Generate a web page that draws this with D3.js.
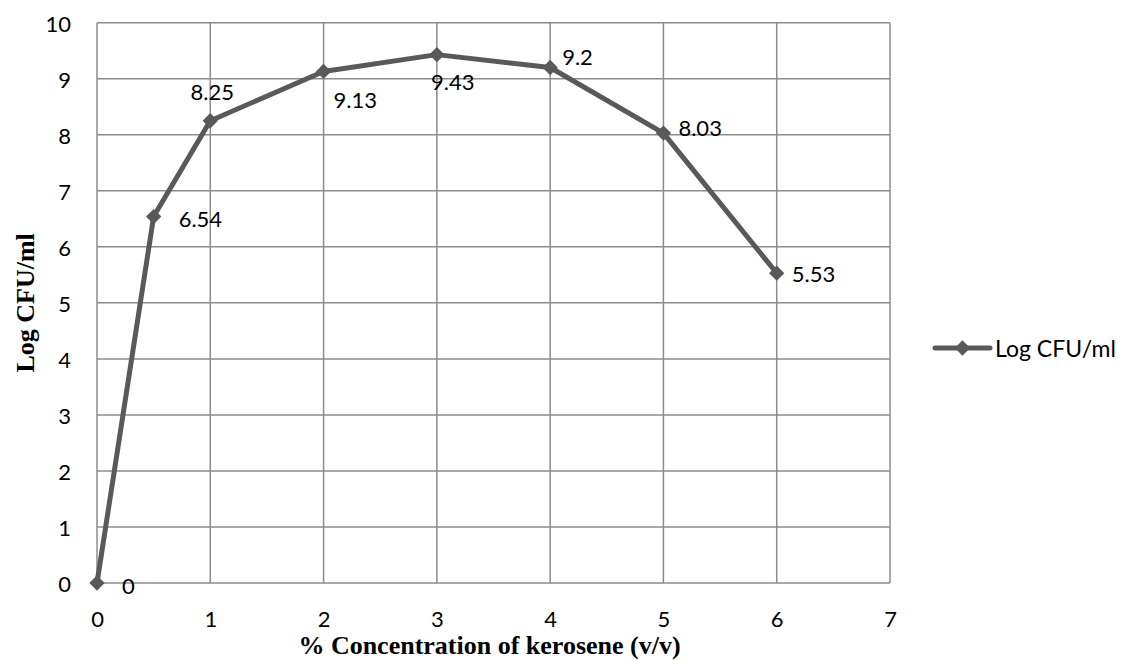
<!DOCTYPE html>
<html>
<head>
<meta charset="utf-8">
<script src="https://cdn.jsdelivr.net/npm/d3@7"></script>
<style>
  html, body { margin: 0; padding: 0; background: #fff; }
  svg { display: block; }
</style>
</head>
<body>
<svg id="chart" width="1123" height="660"></svg>
<script>
// ---- data ----
const concentrations = [0, 0.5, 1, 2, 3, 4, 5, 6];
const logCFU = [0, 6.54, 8.25, 9.13, 9.43, 9.2, 8.03, 5.53];
const labelTexts = ["0", "6.54", "8.25", "9.13", "9.43", "9.2", "8.03", "5.53"];
const xTicks = [0, 1, 2, 3, 4, 5, 6, 7];
const yTicks = [0, 1, 2, 3, 4, 5, 6, 7, 8, 9, 10];
const seriesName = "Log CFU/ml";
const xTitle = "% Concentration of kerosene (v/v)";
const yTitle = "Log CFU/ml";

// ---- layout (label offsets relative to the point) ----
const labelOffsets = [
  {dx: 25, dy: 2, anchor: "start"},
  {dx: 25, dy: 2, anchor: "start"},
  {dx: 2, dy: -29, anchor: "middle"},
  {dx: 10, dy: 28, anchor: "start"},
  {dx: 16, dy: 27, anchor: "middle"},
  {dx: 12, dy: -11, anchor: "start"},
  {dx: 15, dy: -6, anchor: "start"},
  {dx: 15, dy: 0, anchor: "start"}
];

const svg = d3.select("#chart");
const plotLeft = 97, plotRight = 890, plotTop = 22.7, plotBottom = 583;
const x = d3.scaleLinear().domain([0, 7]).range([plotLeft, plotRight]);
const y = d3.scaleLinear().domain([0, 10]).range([plotBottom, plotTop]);

const gridColor = "#8c8c8c";
const seriesColor = "#595959";
const sansFont = "Lato, 'Open Sans', sans-serif";
const serifFont = "'Liberation Serif', 'Times New Roman', serif";

// gridlines
const g = svg.append("g");
g.selectAll("line.h").data(yTicks).join("line")
  .attr("x1", plotLeft).attr("x2", plotRight)
  .attr("y1", d => y(d)).attr("y2", d => y(d))
  .attr("stroke", gridColor).attr("stroke-width", 1.5);
g.selectAll("line.v").data(xTicks).join("line")
  .attr("y1", plotTop).attr("y2", plotBottom)
  .attr("x1", d => x(d)).attr("x2", d => x(d))
  .attr("stroke", gridColor).attr("stroke-width", 1.5);

// axes labels via d3 axes (no lines)
const xAxis = svg.append("g").attr("transform", `translate(0,${plotBottom})`)
  .call(d3.axisBottom(x).tickValues(xTicks).tickFormat(d3.format("d")).tickSize(0).tickPadding(0));
xAxis.select(".domain").remove();
xAxis.selectAll("text").attr("dy", null).attr("y", 35)
  .attr("dominant-baseline", "central")
  .style("font-family", sansFont).style("font-size", "22px").attr("fill", "#000");

const yAxis = svg.append("g").attr("transform", `translate(${plotLeft},0)`)
  .call(d3.axisLeft(y).tickValues(yTicks).tickFormat(d3.format("d")).tickSize(0).tickPadding(0));
yAxis.select(".domain").remove();
yAxis.selectAll("text").attr("dy", null).attr("x", -26)
  .attr("dominant-baseline", "central")
  .style("font-family", sansFont).style("font-size", "22px").attr("fill", "#000");

// series line
const pts = concentrations.map((c, i) => [c, logCFU[i]]);
svg.append("path").datum(pts)
  .attr("d", d3.line().x(d => x(d[0])).y(d => y(d[1])))
  .attr("fill", "none").attr("stroke", seriesColor)
  .attr("stroke-width", 5).attr("stroke-linejoin", "round");

const diamond = d3.symbol().type(d3.symbolDiamond2).size(150);
svg.selectAll("path.marker").data(pts).join("path")
  .attr("class", "marker")
  .attr("d", diamond)
  .attr("transform", d => `translate(${x(d[0])},${y(d[1])})`)
  .attr("fill", seriesColor);

// data labels
svg.selectAll("text.dl").data(pts).join("text")
  .attr("class", "dl")
  .attr("x", (d, i) => x(d[0]) + labelOffsets[i].dx)
  .attr("y", (d, i) => y(d[1]) + labelOffsets[i].dy)
  .attr("text-anchor", (d, i) => labelOffsets[i].anchor)
  .attr("dominant-baseline", "central")
  .style("font-family", sansFont).style("font-size", "22px")
  .text((d, i) => labelTexts[i]);

// axis titles
svg.append("text")
  .attr("x", (plotLeft + plotRight) / 2 - 4).attr("y", 645)
  .attr("text-anchor", "middle").attr("dominant-baseline", "central")
  .style("font-family", serifFont).style("font-weight", "bold").style("font-size", "26px")
  .text(xTitle);
svg.append("text")
  .attr("transform", `translate(25,${(plotTop + plotBottom) / 2}) rotate(-90)`)
  .attr("text-anchor", "middle").attr("dominant-baseline", "central")
  .style("font-family", serifFont).style("font-weight", "bold").style("font-size", "26px")
  .text(yTitle);

// legend
const lg = svg.append("g").attr("transform", "translate(935,348)");
lg.append("line").attr("x1", 0).attr("x2", 55).attr("y1", 0).attr("y2", 0)
  .attr("stroke", seriesColor).attr("stroke-width", 5).attr("stroke-linecap", "round");
lg.append("path").attr("d", diamond).attr("transform", "translate(27.5,0)").attr("fill", seriesColor);
lg.append("text").attr("x", 60).attr("y", 0).attr("dominant-baseline", "central")
  .style("font-family", sansFont).style("font-size", "23px")
  .text(seriesName);
</script>
</body>
</html>
